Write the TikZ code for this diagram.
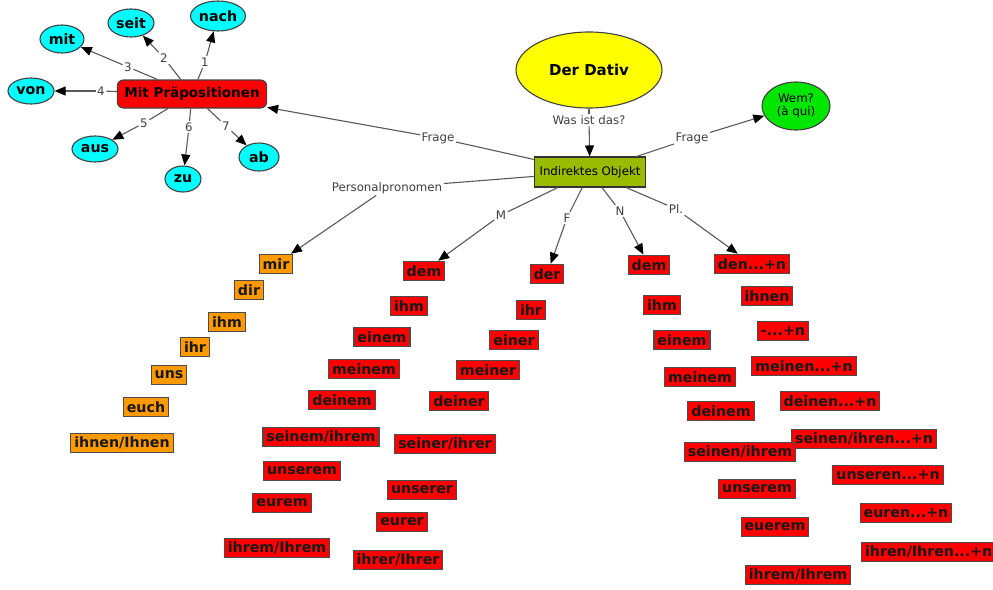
\documentclass[tikz,border=0pt]{standalone}
\usepackage{fontspec}
\setmainfont{DejaVu Sans}
\usetikzlibrary{arrows.meta,shapes.geometric}
\definecolor{cmcyan}{HTML}{00FFFF}
\definecolor{cmred}{HTML}{FF0000}
\definecolor{cmorange}{HTML}{FF9900}
\definecolor{cmyellow}{HTML}{FFFF00}
\definecolor{cmgreen}{HTML}{00E600}
\definecolor{cmolive}{HTML}{99BB00}
\begin{document}
\begin{tikzpicture}[x=1pt, y=-1pt,
	bold/.style={font=\fontsize{14.2}{15}\selectfont\bfseries},
	cloud/.style={ellipse, draw=black!75, line width=1.1pt, fill=cmcyan, inner sep=0pt, bold},
	wbox/.style={rectangle, draw=black!70, line width=1.1pt, inner xsep=3.5pt, inner ysep=1pt, minimum height=19.5pt, bold, text=black!90},
	rbox/.style={wbox, fill=cmred},
	obox/.style={wbox, fill=cmorange},
	lbl/.style={font=\fontsize{11.8}{13}\selectfont, text=black!75, fill=white, inner sep=1.5pt},
	lnk/.style={draw=black!65, line width=1.1pt},
	arr/.style={lnk, -{Triangle[length=11pt,width=9pt,color=black]}}]
	\useasboundingbox (0,0) rectangle (993,589);
	% main concepts
	\node[ellipse, draw=black!75, line width=1.1pt, fill=cmyellow, minimum width=146pt, minimum height=76pt, font=\fontsize{15}{16}\selectfont\bfseries] (dativ) at (589,70) {Der Dativ};
	\node[rectangle, draw=black!80, line width=1.1pt, fill=cmolive, minimum height=30pt, inner xsep=5pt, font=\fontsize{11.8}{13}\selectfont] (io) at (590,172) {Indirektes Objekt};
	\node[ellipse, draw=black!75, line width=1.1pt, fill=cmgreen, minimum width=68pt, minimum height=48pt, inner sep=0pt, align=center, font=\fontsize{11.8}{13}\selectfont] (wem) at (796,106) {Wem?\\(à qui)};
	\node[rectangle, rounded corners=6pt, draw=black!75, line width=1.1pt, fill=cmred, minimum height=28pt, inner xsep=7pt, font=\fontsize{13.5}{14}\selectfont\bfseries] (mp) at (192,94) {Mit Präpositionen};
	% prepositions
	\node[cloud, minimum width=55pt, minimum height=30pt] (nach) at (218,16)  {nach};
	\node[cloud, minimum width=46pt, minimum height=28pt] (seit) at (131,23)  {seit};
	\node[cloud, minimum width=44pt, minimum height=28pt] (mit)  at (62,39)   {mit};
	\node[cloud, minimum width=46pt, minimum height=26pt] (von)  at (31,91)   {von};
	\node[cloud, minimum width=46pt, minimum height=26pt] (aus)  at (95,149)  {aus};
	\node[cloud, minimum width=36pt, minimum height=26pt] (zu)   at (183,179) {zu};
	\node[cloud, minimum width=40pt, minimum height=28pt] (ab)   at (259,157) {ab};
	\node[lbl] (l1) at (205,62)  {1};
	\node[lbl] (l2) at (164,58)  {2};
	\node[lbl] (l3) at (128,67)  {3};
	\node[lbl] (l4) at (101,91)  {4};
	\node[lbl] (l5) at (144,123) {5};
	\node[lbl] (l6) at (189,127) {6};
	\node[lbl] (l7) at (226,126) {7};
	\draw[lnk] (mp) -- (l1); \draw[arr] (l1) -- (nach);
	\draw[lnk] (mp) -- (l2); \draw[arr] (l2) -- (seit);
	\draw[lnk] (mp) -- (l3); \draw[arr] (l3) -- (mit);
	\draw[lnk] (mp) -- (l4); \draw[arr] (l4) -- (von);
	\draw[lnk] (mp) -- (l5); \draw[arr] (l5) -- (aus);
	\draw[lnk] (mp) -- (l6); \draw[arr] (l6) -- (zu);
	\draw[lnk] (mp) -- (l7); \draw[arr] (l7) -- (ab);
	% personal pronouns
	\node[obox] (p1) at (276,264) {mir};
	\node[obox] (p2) at (249,290) {dir};
	\node[obox] (p3) at (227,322) {ihm};
	\node[obox] (p4) at (195,347) {ihr};
	\node[obox] (p5) at (169,375) {uns};
	\node[obox] (p6) at (146,407) {euch};
	\node[obox] (p7) at (122,443) {ihnen/Ihnen};
	% masculine
	\node[rbox] (m1) at (424,271) {dem};
	\node[rbox] (m2) at (409,306) {ihm};
	\node[rbox] (m3) at (382,337) {einem};
	\node[rbox] (m4) at (364,369) {meinem};
	\node[rbox] (m5) at (342,400) {deinem};
	\node[rbox] (m6) at (321,437) {seinem/ihrem};
	\node[rbox] (m7) at (302,471) {unserem};
	\node[rbox] (m8) at (282,503) {eurem};
	\node[rbox] (m9) at (277,548) {ihrem/Ihrem};
	% feminine
	\node[rbox] (f1) at (547,274) {der};
	\node[rbox] (f2) at (531,310) {ihr};
	\node[rbox] (f3) at (514,340) {einer};
	\node[rbox] (f4) at (488,370) {meiner};
	\node[rbox] (f5) at (459,401) {deiner};
	\node[rbox] (f6) at (445,444) {seiner/ihrer};
	\node[rbox] (f7) at (422,490) {unserer};
	\node[rbox] (f8) at (402,522) {eurer};
	\node[rbox] (f9) at (398,560) {ihrer/Ihrer};
	% neuter
	\node[rbox] (n1) at (649,265) {dem};
	\node[rbox] (n2) at (662,305) {ihm};
	\node[rbox] (n3) at (682,340) {einem};
	\node[rbox] (n4) at (700,377) {meinem};
	\node[rbox] (n5) at (721,411) {deinem};
	\node[rbox] (n7) at (757,489) {unserem};
	\node[rbox] (n8) at (775,527) {euerem};
	\node[rbox] (n9) at (798,575) {ihrem/Ihrem};
	% plural
	\node[rbox] (pl1) at (752,264) {den...+n};
	\node[rbox] (pl2) at (767,296) {ihnen};
	\node[rbox] (pl3) at (783,331) {-...+n};
	\node[rbox] (pl4) at (804,366) {meinen...+n};
	\node[rbox] (pl5) at (830,401) {deinen...+n};
	\node[rbox] (pl6) at (864,439) {seinen/ihren...+n};
	\node[rbox] (n6)  at (740,452) {seinen/ihrem};
	\node[rbox] (pl7) at (888,475) {unseren...+n};
	\node[rbox] (pl8) at (906,513) {euren...+n};
	\node[rbox, anchor=west] (pl9) at (861,552) {ihren/Ihren...+n};
	% links from the object
	\node[lbl] (lwas) at (589,120) {Was ist das?};
	\node[lbl] (lfr1) at (438,138) {Frage};
	\node[lbl] (lfr2) at (692,138) {Frage};
	\node[lbl] (lpp)  at (387,188) {Personalpronomen};
	\node[lbl] (lm)   at (501,215) {M};
	\node[lbl] (lf)   at (567,218) {F};
	\node[lbl] (ln)   at (620,211) {N};
	\node[lbl] (lpl)  at (676,209) {Pl.};
	\draw[lnk] (dativ) -- (lwas); \draw[arr] (lwas) -- (io);
	\draw[lnk] (io) -- (lfr1);    \draw[arr] (lfr1) -- (mp);
	\draw[lnk] (io) -- (lfr2);    \draw[arr] (lfr2) -- (wem);
	\draw[lnk] (io) -- (lpp);     \draw[arr] (lpp) -- (p1);
	\draw[lnk] (io) -- (lm);      \draw[arr] (lm) -- (m1);
	\draw[lnk] (io) -- (lf);      \draw[arr] (lf) -- (f1);
	\draw[lnk] (io) -- (ln);      \draw[arr] (ln) -- (n1);
	\draw[lnk] (io) -- (lpl);     \draw[arr] (lpl) -- (pl1);
\end{tikzpicture}
\end{document}
